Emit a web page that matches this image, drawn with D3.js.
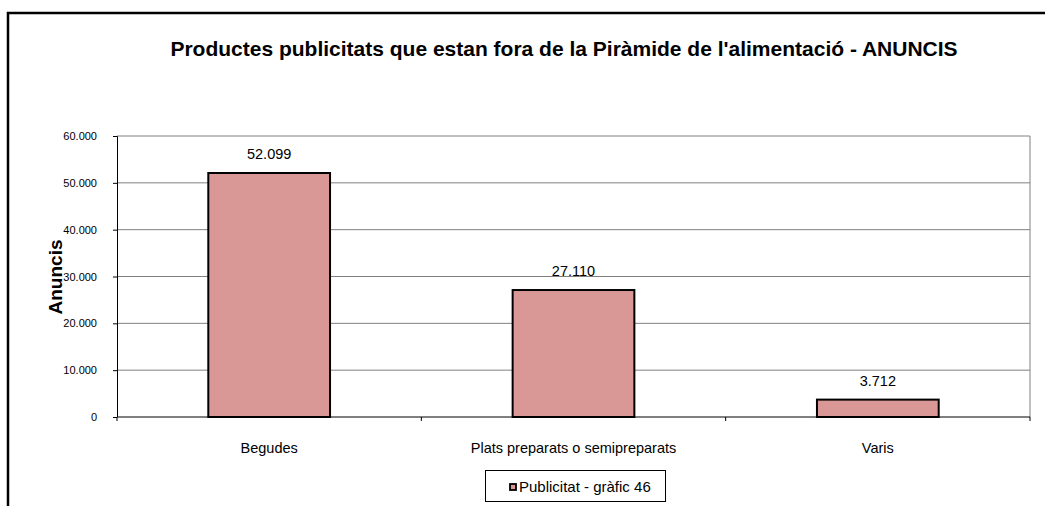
<!DOCTYPE html>
<html>
<head>
<meta charset="utf-8">
<script src="https://cdn.jsdelivr.net/npm/d3@7"></script>
<style>
  body { margin: 0; background: #fff; }
  svg { display: block; font-family: "Liberation Sans", Arial, sans-serif; }
</style>
</head>
<body>
<div class="chart"></div>
<script>
// Productes fora de la piràmide - anuncis
var categories = ["Begudes", "Plats preparats o semipreparats", "Varis"];
var values = [52099, 27110, 3712];
var valueLabels = ["52.099", "27.110", "3.712"];
var yTicks = [0, 10000, 20000, 30000, 40000, 50000, 60000];
var yTickLabels = ["0", "10.000", "20.000", "30.000", "40.000", "50.000", "60.000"];
var seriesName = "Publicitat - gràfic 46";

var svgWidth = 1045;
var svgHeight = 506;

var margin = { top: 136, right: 15, bottom: 89, left: 117 };
var width = svgWidth - margin.left - margin.right;
var height = svgHeight - margin.top - margin.bottom;

var svg = d3.select(".chart")
    .append("svg")
    .attr("width", svgWidth)
    .attr("height", svgHeight);

// outer frame
svg.append("rect")
    .attr("x", 8)
    .attr("y", 13)
    .attr("width", 1060)
    .attr("height", 520)
    .attr("fill", "none")
    .attr("stroke", "#000")
    .attr("stroke-width", 2.5);

svg.append("text")
    .attr("x", 564)
    .attr("y", 56)
    .attr("text-anchor", "middle")
    .attr("font-size", 21)
    .attr("font-weight", "bold")
    .text("Productes publicitats que estan fora de la Piràmide de l'alimentació - ANUNCIS");

var chartGroup = svg.append("g")
    .attr("transform", `translate(${margin.left}, ${margin.top})`);

var xScale = d3.scaleBand()
    .domain(categories)
    .range([0, width])
    .paddingInner(0.6)
    .paddingOuter(0.3);

var xBoundary = d3.scaleLinear()
    .domain([0, categories.length])
    .range([0, width]);

var yScale = d3.scaleLinear()
    .domain([0, 60000])
    .range([height, 0]);

// gridlines
chartGroup.append("g")
    .selectAll("line")
    .data(yTicks.slice(1))
    .enter()
    .append("line")
    .attr("x1", 0)
    .attr("x2", width)
    .attr("y1", d => yScale(d))
    .attr("y2", d => yScale(d))
    .attr("stroke", "#808080")
    .attr("stroke-width", 1);

// right border of plot area
chartGroup.append("line")
    .attr("x1", width)
    .attr("x2", width)
    .attr("y1", 0)
    .attr("y2", height)
    .attr("stroke", "#808080")
    .attr("stroke-width", 1);

// y axis
var leftAxis = d3.axisLeft(yScale)
    .tickValues(yTicks)
    .tickSize(4)
    .tickPadding(16)
    .tickFormat((d, i) => yTickLabels[i]);

var yAxis = chartGroup.append("g").call(leftAxis);
yAxis.select(".domain").attr("stroke", "#000").attr("d", `M-4,0.5H0.5V${height}`);
yAxis.selectAll(".tick line").attr("stroke", "#000");
yAxis.selectAll("text")
    .attr("font-size", 11)
    .attr("font-family", "Liberation Sans, Arial, sans-serif")
    .attr("fill", "#000");

// x axis
chartGroup.append("line")
    .attr("x1", 0)
    .attr("x2", width)
    .attr("y1", height)
    .attr("y2", height)
    .attr("stroke", "#000");

chartGroup.append("g")
    .selectAll("line")
    .data(d3.range(categories.length + 1))
    .enter()
    .append("line")
    .attr("x1", d => xBoundary(d))
    .attr("x2", d => xBoundary(d))
    .attr("y1", height)
    .attr("y2", height + 4)
    .attr("stroke", "#000");

chartGroup.append("g")
    .selectAll("text")
    .data(categories)
    .enter()
    .append("text")
    .attr("x", d => xScale(d) + xScale.bandwidth() / 2)
    .attr("y", height + 36)
    .attr("text-anchor", "middle")
    .attr("font-size", 14.5)
    .text(d => d);

// bars
chartGroup.selectAll("rect.bar")
    .data(values)
    .enter()
    .append("rect")
    .attr("class", "bar")
    .attr("x", (d, i) => xScale(categories[i]))
    .attr("y", d => yScale(d))
    .attr("width", xScale.bandwidth())
    .attr("height", d => height - yScale(d))
    .attr("fill", "#d99795")
    .attr("stroke", "#000")
    .attr("stroke-width", 2);

// value labels
chartGroup.selectAll("text.val")
    .data(values)
    .enter()
    .append("text")
    .attr("class", "val")
    .attr("x", (d, i) => xScale(categories[i]) + xScale.bandwidth() / 2)
    .attr("y", d => yScale(d) - 14)
    .attr("text-anchor", "middle")
    .attr("font-size", 14.5)
    .text((d, i) => valueLabels[i]);

// y axis title
svg.append("text")
    .attr("transform", "translate(62, 277) rotate(-90)")
    .attr("text-anchor", "middle")
    .attr("font-size", 19)
    .attr("font-weight", "bold")
    .text("Anuncis");

// legend
var legend = svg.append("g").attr("transform", "translate(485, 470)");
legend.append("rect")
    .attr("x", 0.5)
    .attr("y", 0.5)
    .attr("width", 180)
    .attr("height", 31)
    .attr("fill", "#fff")
    .attr("stroke", "#000");
legend.append("rect")
    .attr("x", 25)
    .attr("y", 14)
    .attr("width", 6)
    .attr("height", 6)
    .attr("fill", "#d99795")
    .attr("stroke", "#000")
    .attr("stroke-width", 1.8);
legend.append("text")
    .attr("x", 34)
    .attr("y", 22)
    .attr("font-size", 15)
    .text(seriesName);
</script>
</body>
</html>
